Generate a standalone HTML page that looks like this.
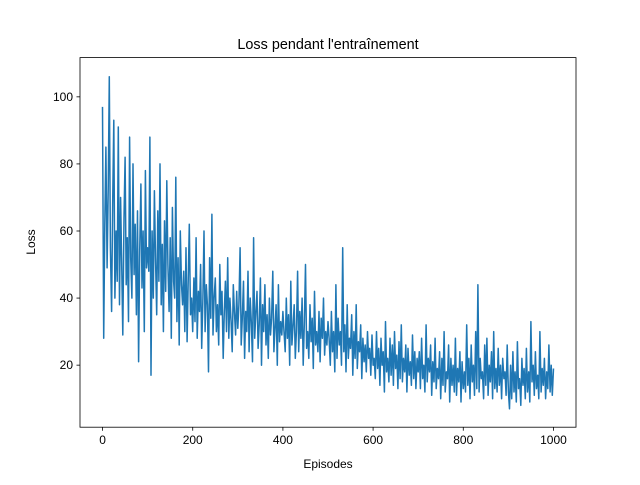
<!DOCTYPE html>
<html><head><meta charset="utf-8"><style>
body{margin:0;background:#fff}
svg text{font-family:"Liberation Sans","DejaVu Sans",sans-serif;fill:#000}
</style></head><body>
<svg id="chart" width="640" height="480" xmlns="http://www.w3.org/2000/svg">
<rect width="640" height="480" fill="#fff"/>
<text x="328" y="49" font-size="14.4" text-anchor="middle">Loss pendant l'entraînement</text>
<g id="ticks"></g>
<polyline id="line" fill="none" stroke="#1f77b4" stroke-width="1.5" stroke-linejoin="round"/>
<rect x="80" y="57.6" width="496" height="369.6" fill="none" stroke="#000" stroke-width="0.8"/>
<text x="328" y="468" font-size="12" text-anchor="middle">Episodes</text>
<text x="35" y="242" font-size="12" text-anchor="middle" transform="rotate(-90 35 242)">Loss</text>
</svg>
<script>
const step = 2.5;
const lossValues = [97,28,62,85,49,72,106,55,36,69,93,40,60,45,91,38,70,50,29,64,82,44,58,33,88,52,40,80,47,62,35,66,21,54,74,43,60,30,78,49,55,
48,88,17,60,40,72,52,35,66,45,80,38,56,30,63,42,75,50,36,58,28,67,45,40,76,33,52,26,60,44,38,48,30,55,27,45,62,35,40,30,
46,33,58,28,42,36,50,25,40,60,30,44,38,18,52,34,65,29,40,46,30,38,26,50,35,42,22,36,45,30,52,28,40,33,24,44,36,29,42,31,
38,55,26,34,45,22,36,30,48,24,40,33,21,58,28,36,42,25,32,46,20,38,30,44,26,35,22,40,29,34,48,24,31,38,20,44,27,33,29,36,
30,24,40,28,35,20,45,26,32,38,22,30,48,24,36,28,40,20,32,50,25,30,22,38,27,34,19,42,26,30,24,36,21,34,28,40,23,30,26,33,
28,20,36,24,30,18,44,22,34,26,30,20,55,24,32,18,38,22,28,25,35,17,30,22,38,19,27,24,32,16,28,21,26,18,30,22,25,17,29,20,
22,16,30,19,25,14,28,20,24,12,33,18,22,15,28,17,26,14,30,19,23,13,27,16,32,15,22,18,26,12,25,17,21,14,29,16,24,13,22,18,
24,13,28,16,20,12,32,15,22,18,26,11,21,15,28,13,19,16,24,10,22,14,30,12,18,16,26,9,22,14,20,12,28,11,19,15,24,9,21,13,
18,12,32,14,22,10,26,15,20,11,30,13,44,12,22,16,18,10,26,14,28,11,20,15,24,10,30,13,19,12,25,14,20,10,22,16,18,11,26,12,
7,20,10,24,12,18,9,27,13,16,8,22,14,19,10,25,12,18,9,33,15,20,11,24,13,17,10,30,12,19,14,22,10,18,13,26,12,20,11,19];
const xTicks = [0,200,400,600,800,1000];
const yTicks = [20,40,60,80,100];
const X0=80,X1=576,Y0=427.2,Y1=57.6,xmin=-50,xmax=1050,ymin=1.5,ymax=111.7;
const sx=v=>X0+(v-xmin)/(xmax-xmin)*(X1-X0);
const sy=v=>Y0-(v-ymin)/(ymax-ymin)*(Y0-Y1);
const NS="http://www.w3.org/2000/svg";
document.getElementById('line').setAttribute('points',lossValues.map((v,i)=>sx(i*step).toFixed(1)+','+sy(v).toFixed(1)).join(' '));
const g=document.getElementById('ticks');
function mk(t,a){const e=document.createElementNS(NS,t);for(const k in a)e.setAttribute(k,a[k]);g.appendChild(e);return e;}
xTicks.forEach(v=>{const x=sx(v);
const l=mk('line',{x1:x,x2:x,y1:Y0,y2:Y0+3.5,stroke:'#000','stroke-width':0.8});


const t=mk('text',{x:x,y:Y0+17,'font-size':12,'text-anchor':'middle'});t.textContent=v;

});
yTicks.forEach(v=>{const y=sy(v);
const l=mk('line',{x1:X0-3.5,x2:X0,y1:y,y2:y,stroke:'#000','stroke-width':0.8});


const t=mk('text',{x:X0-7,y:y+4,'font-size':12,'text-anchor':'end'});t.textContent=v;

});
</script>
</body></html>
